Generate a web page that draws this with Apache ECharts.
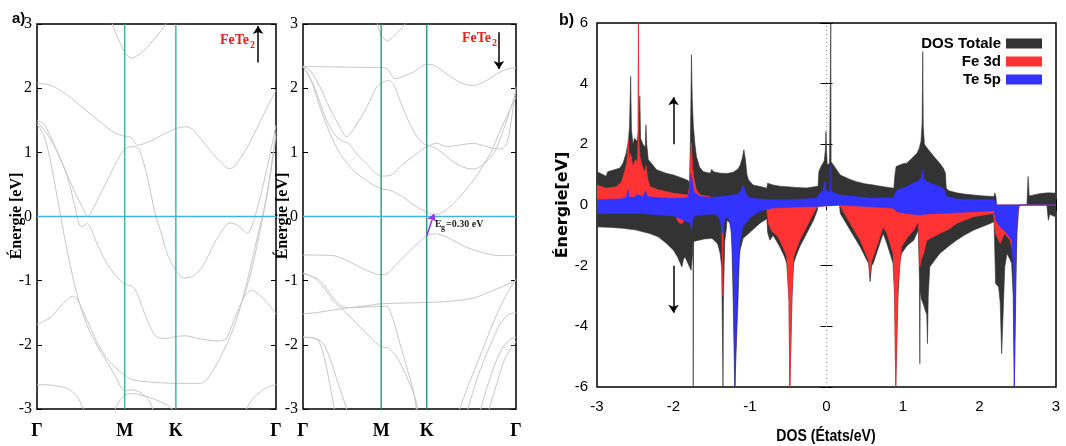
<!DOCTYPE html>
<html><head><meta charset="utf-8">
<script src="https://cdn.jsdelivr.net/npm/echarts@6/dist/echarts.min.js"></script>
<style>html,body{margin:0;padding:0;background:#fff}#c{width:1066px;height:446px}</style>
</head><body><div id="c"></div>
<script>
// ---------- k-path (band panels) ----------
const kTicks = [0, 0.367, 0.581, 1];
const kLabels = ['Γ', 'M', 'K', 'Γ'];

// spin-up bands (panel a, left)
const bandsUp = [
  [[0.30,3.2],[0.315,3.0],[0.34,2.77],[0.367,2.56],[0.396,2.47],[0.448,2.59],[0.503,2.82],[0.538,3.0],[0.555,3.12]],
  [[0,2.07],[0.045,2.06],[0.127,1.89],[0.197,1.68],[0.266,1.47],[0.322,1.31],[0.367,1.25],[0.395,1.23],[0.42,1.11],[0.476,1.18],[0.545,1.31],[0.581,1.37],[0.622,1.40],[0.657,1.34],[0.713,1.08],[0.768,0.85],[0.803,0.75],[0.824,0.77],[0.88,1.08],[0.936,1.50],[0.978,1.81],[1,1.97]],
  [[0,1.50],[0.029,1.44],[0.071,1.13],[0.113,0.77],[0.155,0.41],[0.197,0.09],[0.21,0.0],[0.222,0.03],[0.252,0.25],[0.294,0.56],[0.336,0.87],[0.367,1.05],[0.406,1.09],[0.427,1.05],[0.462,0.61],[0.497,0.0],[0.517,-0.22],[0.545,-0.58],[0.581,-0.84],[0.615,-0.96],[0.657,-0.92],[0.699,-0.74],[0.74,-0.43],[0.79,-0.14],[0.81,-0.10],[0.845,-0.15],[0.88,-0.26],[0.908,-0.05],[0.95,0.55],[1,1.42]],
  [[0,1.47],[0.04,1.30],[0.085,1.0],[0.127,0.62],[0.162,0.1],[0.175,-0.1],[0.186,-0.16],[0.197,-0.14],[0.21,-0.11],[0.252,-0.43],[0.294,-0.74],[0.336,-0.95],[0.367,-1.05],[0.399,-1.09],[0.42,-1.21],[0.462,-1.62],[0.503,-1.88],[0.545,-1.90],[0.581,-1.87],[0.622,-1.86],[0.685,-1.91],[0.754,-1.94],[0.79,-1.91],[0.824,-1.62],[0.866,-1.26],[0.90,-1.15],[0.93,-1.22],[0.96,-1.33],[1,-1.52]],
  [[0,1.44],[0.03,1.25],[0.06,0.8],[0.099,0.0],[0.13,-0.6],[0.17,-1.25],[0.21,-1.7],[0.25,-2.0],[0.29,-2.25],[0.33,-2.5],[0.367,-2.72],[0.40,-2.70],[0.44,-2.76],[0.47,-2.88],[0.49,-3.05]],
  [[0,-1.68],[0.057,-1.57],[0.113,-1.34],[0.152,-1.24],[0.17,-1.3],[0.21,-1.62],[0.25,-1.95],[0.29,-2.2],[0.33,-2.36],[0.367,-2.47],[0.395,-2.54],[0.476,-2.58],[0.581,-2.6],[0.685,-2.6],[0.713,-2.53],[0.768,-2.19],[0.824,-1.72],[0.87,-1.15],[0.92,-0.35],[0.96,0.3],[1,1.25]],
  [[0.866,-1.26],[0.9,-0.8],[0.94,-0.1],[0.97,0.5],[1,1.32]],
  [[0.87,-3.05],[0.9,-2.85],[0.94,-2.72],[0.97,-2.65],[1,-2.62]],
  [[0,-2.62],[0.06,-2.63],[0.127,-2.68],[0.17,-2.82],[0.2,-3.05]],
  [[0.32,-3.05],[0.345,-2.88],[0.367,-2.78],[0.40,-2.76],[0.47,-2.82],[0.54,-2.93],[0.58,-3.05]]
];

// spin-down bands (panel a, right)
const bandsDown = [
  [[0.335,3.12],[0.349,3.0],[0.367,2.82],[0.396,2.74],[0.44,2.86],[0.479,3.0],[0.49,3.1]],
  [[0,2.34],[0.142,2.33],[0.367,2.32],[0.396,2.30],[0.432,2.15],[0.46,2.17],[0.518,2.25],[0.581,2.37],[0.612,2.36],[0.675,2.22],[0.737,2.09],[0.797,2.04],[0.862,2.12],[0.925,2.25],[0.972,2.31],[1,2.32]],
  [[0,2.34],[0.033,2.28],[0.08,2.02],[0.127,1.68],[0.174,1.39],[0.205,1.24],[0.252,1.44],[0.299,1.70],[0.346,2.02],[0.367,2.08],[0.40,2.12],[0.424,2.07],[0.455,1.81],[0.502,1.44],[0.549,1.18],[0.581,1.11],[0.612,1.08],[0.659,0.98],[0.72,0.82],[0.79,0.74],[0.83,0.77],[0.894,0.98],[0.94,1.34],[1,1.95]],
  [[0,2.34],[0.049,2.05],[0.111,1.50],[0.158,1.24],[0.189,1.17],[0.213,1.14],[0.252,0.98],[0.299,0.82],[0.367,0.63],[0.408,0.64],[0.471,0.82],[0.534,0.98],[0.581,1.09],[0.628,1.14],[0.675,1.09],[0.729,1.11],[0.80,1.14],[0.862,1.09],[0.925,1.05],[0.956,1.13],[0.987,1.70],[1,2.02]],
  [[0,2.34],[0.033,2.17],[0.08,1.70],[0.127,1.29],[0.174,0.98],[0.236,0.72],[0.299,0.56],[0.367,0.43],[0.408,0.41],[0.471,0.30],[0.534,0.15],[0.581,0.07],[0.612,0.03],[0.659,0.07],[0.72,0.25],[0.80,0.56],[0.878,0.98],[0.94,1.44],[1,1.86]],
  [[0,-0.60],[0.142,-0.61],[0.22,-0.71],[0.299,-0.84],[0.367,-0.91],[0.396,-0.89],[0.44,-0.74],[0.502,-0.53],[0.581,-0.30],[0.62,-0.27],[0.675,-0.32],[0.768,-0.48],[0.862,-0.58],[0.925,-0.61],[1,-0.60]],
  [[0,-0.89],[0.049,-0.95],[0.095,-1.10],[0.142,-1.31],[0.189,-1.46],[0.252,-1.67],[0.315,-1.88],[0.367,-2.03],[0.40,-2.05],[0.44,-2.19],[0.487,-2.5],[0.526,-2.82],[0.54,-3.05]],
  [[0,-0.88],[0.04,-0.93],[0.08,-1.0],[0.142,-1.26],[0.189,-1.41],[0.236,-1.42],[0.299,-1.41],[0.367,-1.40],[0.396,-1.41],[0.424,-1.62],[0.455,-1.98],[0.487,-2.35],[0.518,-2.71],[0.534,-3.05]],
  [[0,-1.52],[0.08,-1.49],[0.174,-1.44],[0.299,-1.39],[0.367,-1.36],[0.581,-1.34],[0.69,-1.32],[0.80,-1.27],[0.894,-1.15],[1,-1.0]],
  [[0,-1.88],[0.05,-1.89],[0.075,-1.95],[0.1,-2.2],[0.125,-2.6],[0.15,-3.05]],
  [[0,-1.88],[0.05,-1.9],[0.09,-1.96],[0.12,-2.15],[0.15,-2.45],[0.18,-2.75],[0.21,-3.05]],
  [[0.73,-3.05],[0.78,-2.6],[0.84,-2.1],[0.9,-1.6],[0.95,-1.25],[1,-0.98]],
  [[0.77,-3.05],[0.82,-2.5],[0.88,-2.0],[0.93,-1.65],[0.97,-1.52],[1,-1.5]],
  [[0.83,-3.05],[0.87,-2.6],[0.92,-2.15],[0.96,-1.95],[1,-1.88]],
  [[0.87,-3.05],[0.91,-2.6],[0.95,-2.2],[1,-1.95]]
];

// ---------- DOS (panel b) ----------
const dosTotalUp = [[-3,1.10],[-2.88,0.95],[-2.86,1.10],[-2.75,1.18],[-2.7,1.22],[-2.66,1.38],[-2.62,1.7],[-2.59,2.1],[-2.575,2.6],[-2.56,4.24],[-2.55,2.5],[-2.53,2.0],[-2.51,2.2],[-2.475,2.1],[-2.462,2.4],[-2.458,6.0],[-2.454,2.8],[-2.44,3.6],[-2.43,2.2],[-2.40,2.0],[-2.37,1.9],[-2.36,2.64],[-2.35,2.0],[-2.33,1.5],[-2.22,1.16],[-2.1,1.05],[-2.0,0.99],[-1.9,0.9],[-1.83,0.83],[-1.79,0.77],[-1.78,2.0],[-1.765,4.95],[-1.755,3.5],[-1.74,2.6],[-1.72,2.0],[-1.70,1.6],[-1.66,1.25],[-1.61,1.10],[-1.52,1.05],[-1.50,1.18],[-1.48,1.1],[-1.39,1.05],[-1.3,1.04],[-1.22,1.08],[-1.16,1.18],[-1.13,1.3],[-1.10,1.55],[-1.08,1.82],[-1.06,1.5],[-1.04,1.0],[-1.02,0.83],[-0.96,0.66],[-0.85,0.6],[-0.78,0.55],[-0.77,0.72],[-0.7,0.66],[-0.61,0.62],[-0.4,0.58],[-0.26,0.56],[-0.11,0.62],[-0.1,1.1],[-0.07,1.28],[-0.03,1.45],[-0.015,1.8],[-0.007,2.42],[0.0,1.8],[0.01,1.32],[0.04,1.38],[0.052,1.4],[0.056,6.0],[0.06,1.42],[0.09,1.32],[0.18,0.99],[0.3,0.85],[0.39,0.77],[0.5,0.7],[0.61,0.66],[0.75,0.6],[0.88,0.55],[0.895,1.0],[0.91,1.27],[0.96,1.32],[1.0,1.36],[1.05,1.38],[1.1,1.5],[1.14,1.6],[1.18,1.7],[1.21,1.85],[1.235,2.1],[1.25,2.7],[1.258,5.06],[1.265,2.6],[1.28,2.0],[1.3,1.93],[1.34,1.8],[1.37,1.71],[1.42,1.55],[1.48,1.38],[1.53,1.2],[1.555,1.05],[1.565,0.55],[1.6,0.47],[1.7,0.4],[1.8,0.36],[1.92,0.33],[2.05,0.3],[2.19,0.28],[2.2,0.4],[2.215,0.28],[2.225,0],[2.62,0],[2.635,0.94],[2.65,0.3],[2.66,0.33],[2.8,0.38],[2.9,0.4],[3.0,0.39]];
const dosFeUp = [[-3,0.66],[-2.88,0.55],[-2.75,0.6],[-2.68,0.75],[-2.64,1.1],[-2.61,1.4],[-2.59,2.15],[-2.58,1.5],[-2.56,1.7],[-2.53,1.25],[-2.50,1.5],[-2.47,1.4],[-2.462,2.48],[-2.458,6.0],[-2.454,2.2],[-2.44,1.6],[-2.40,1.2],[-2.37,1.1],[-2.36,1.3],[-2.34,0.9],[-2.31,0.61],[-2.2,0.5],[-2.0,0.39],[-1.81,0.33],[-1.79,0.6],[-1.78,1.49],[-1.765,2.04],[-1.75,1.2],[-1.73,0.83],[-1.7,0.5],[-1.65,0.33],[-1.52,0.28],[-1.5,0.12],[-1.0,0.1],[0,0.12],[1,0.12],[2.2,0.1],[2.22,0],[3,0]];
const dosTeUp = [[-3,0.17],[-2.7,0.2],[-2.62,0.24],[-2.595,0.5],[-2.58,0.25],[-2.5,0.26],[-2.48,0.35],[-2.46,0.3],[-2.4,0.28],[-2.365,0.45],[-2.34,0.28],[-2.2,0.24],[-2.0,0.22],[-1.81,0.24],[-1.79,0.5],[-1.77,1.05],[-1.75,0.7],[-1.73,0.42],[-1.65,0.28],[-1.5,0.25],[-1.3,0.3],[-1.16,0.36],[-1.13,0.42],[-1.09,0.66],[-1.06,0.42],[-1.02,0.25],[-0.9,0.2],[-0.7,0.17],[-0.4,0.18],[-0.13,0.22],[-0.09,0.39],[-0.05,0.45],[-0.02,0.77],[-0.01,0.5],[0.02,0.44],[0.05,0.44],[0.056,1.3],[0.06,0.44],[0.1,0.4],[0.18,0.33],[0.4,0.27],[0.61,0.22],[0.88,0.24],[0.9,0.4],[0.93,0.5],[1.0,0.55],[1.05,0.61],[1.12,0.7],[1.2,0.8],[1.24,0.9],[1.258,1.16],[1.27,0.85],[1.31,0.77],[1.4,0.68],[1.48,0.61],[1.54,0.5],[1.57,0.28],[1.7,0.2],[1.92,0.17],[2.2,0.17],[2.22,0],[3,0]];
const dosTotalDown = [[-3,-0.72],[-2.8,-0.74],[-2.66,-0.77],[-2.5,-0.82],[-2.31,-0.94],[-2.2,-1.05],[-2.09,-1.27],[-2.0,-1.49],[-1.95,-1.7],[-1.91,-1.93],[-1.89,-2.04],[-1.87,-1.8],[-1.85,-1.71],[-1.81,-1.93],[-1.77,-2.15],[-1.75,-1.6],[-1.745,-1.2],[-1.742,-6],[-1.738,-1.2],[-1.70,-1.18],[-1.6,-1.12],[-1.5,-1.1],[-1.45,-1.2],[-1.42,-1.3],[-1.39,-1.6],[-1.37,-2.04],[-1.353,-6],[-1.347,-3],[-1.33,-1.2],[-1.31,-0.8],[-1.30,-0.5],[-1.28,-0.44],[-1.26,-0.6],[-1.24,-0.94],[-1.22,-3.14],[-1.2,-6],[-1.18,-6],[-1.16,-3.4],[-1.14,-1.8],[-1.13,-1.49],[-1.09,-1.1],[-1.0,-0.9],[-0.87,-0.6],[-0.78,-0.45],[-0.77,-0.9],[-0.74,-1.16],[-0.70,-1.0],[-0.65,-1.2],[-0.61,-1.38],[-0.55,-1.7],[-0.52,-1.93],[-0.49,-3.14],[-0.48,-6],[-0.46,-6],[-0.45,-3.0],[-0.43,-1.93],[-0.40,-1.7],[-0.35,-1.38],[-0.26,-0.94],[-0.17,-0.5],[-0.12,-0.17],[-0.11,0],[0.17,0],[0.18,-0.28],[0.31,-0.83],[0.44,-1.38],[0.55,-1.93],[0.57,-2.53],[0.59,-2.0],[0.61,-1.93],[0.68,-1.4],[0.74,-0.94],[0.79,-1.27],[0.87,-1.93],[0.89,-3.0],[0.905,-6],[0.92,-6],[0.935,-3.0],[0.96,-1.9],[0.98,-1.6],[1.05,-1.35],[1.14,-1.16],[1.20,-0.83],[1.215,-2.5],[1.22,-5.23],[1.225,-2.8],[1.24,-3.1],[1.27,-3.3],[1.29,-3.47],[1.31,-3.6],[1.32,-4.57],[1.33,-3.0],[1.35,-2.04],[1.42,-1.8],[1.48,-1.6],[1.6,-1.35],[1.70,-1.16],[1.8,-1.0],[1.92,-0.83],[2.05,-0.7],[2.14,-0.61],[2.19,-0.55],[2.205,-2.0],[2.21,-2.59],[2.25,-2.7],[2.27,-3.2],[2.29,-4.9],[2.31,-3.5],[2.33,-2.04],[2.36,-1.6],[2.38,-1.6],[2.40,-1.8],[2.42,-1.93],[2.44,-3.0],[2.455,-6],[2.465,-6],[2.48,-2.0],[2.49,-0.94],[2.51,-0.2],[2.52,0],[2.88,0],[2.9,-0.5],[2.92,-0.3],[2.95,-0.35],[3.0,-0.39]];
const dosFeDown = [[-3,-0.04],[-2.0,-0.05],[-1.95,-0.5],[-1.92,-0.6],[-1.9,-0.55],[-1.88,-0.6],[-1.86,-0.5],[-1.84,-0.05],[-1.4,-0.05],[-1.37,-0.6],[-1.355,-3],[-1.35,-0.3],[-1.34,-0.05],[-1.0,-0.06],[-0.96,-0.1],[-0.9,-0.12],[-0.78,-0.15],[-0.76,-0.6],[-0.72,-0.85],[-0.65,-1.0],[-0.61,-1.16],[-0.55,-1.5],[-0.52,-1.71],[-0.49,-3.14],[-0.478,-6],[-0.462,-6],[-0.45,-2.8],[-0.43,-1.71],[-0.35,-1.16],[-0.26,-0.72],[-0.17,-0.28],[-0.12,-0.05],[-0.11,0],[0.17,0],[0.18,-0.05],[0.31,-0.61],[0.44,-1.16],[0.55,-1.82],[0.57,-2.26],[0.59,-1.85],[0.61,-1.71],[0.68,-1.2],[0.74,-0.72],[0.79,-0.94],[0.87,-1.6],[0.89,-2.8],[0.905,-6],[0.92,-6],[0.935,-2.59],[0.98,-1.38],[1.05,-1.1],[1.14,-0.83],[1.20,-0.55],[1.215,-1.5],[1.22,-2.04],[1.24,-1.8],[1.27,-1.6],[1.31,-1.16],[1.4,-1.05],[1.48,-0.94],[1.6,-0.8],[1.70,-0.61],[1.8,-0.5],[1.92,-0.39],[2.05,-0.33],[2.18,-0.28],[2.205,-0.8],[2.21,-0.94],[2.27,-1.27],[2.3,-1.1],[2.33,-0.94],[2.40,-1.16],[2.44,-1.6],[2.47,-1.0],[2.49,-0.39],[2.52,0],[3,0]];
const dosTeDown = [[-3,-0.28],[-2.44,-0.28],[-2.0,-0.36],[-1.91,-0.45],[-1.83,-0.55],[-1.78,-0.6],[-1.765,-0.83],[-1.75,-0.5],[-1.72,-0.35],[-1.48,-0.3],[-1.42,-0.35],[-1.39,-0.5],[-1.36,-0.94],[-1.34,-0.6],[-1.32,-0.4],[-1.28,-0.42],[-1.25,-0.8],[-1.23,-1.5],[-1.21,-3.0],[-1.195,-6],[-1.185,-6],[-1.17,-3.0],[-1.15,-1.8],[-1.13,-1.16],[-1.09,-0.72],[-1.0,-0.42],[-0.87,-0.2],[-0.7,-0.1],[-0.3,-0.06],[-0.13,-0.05],[-0.11,0],[0.17,0],[0.18,-0.05],[0.87,-0.1],[0.92,-0.22],[1.05,-0.28],[1.22,-0.33],[1.3,-0.3],[1.48,-0.28],[1.92,-0.22],[2.19,-0.19],[2.21,-0.5],[2.27,-0.72],[2.36,-0.94],[2.42,-1.16],[2.44,-2.0],[2.455,-6],[2.465,-6],[2.48,-1.0],[2.49,-0.28],[2.52,0],[3,0]];
const dosNames = ['DOS Totale', 'Fe 3d', 'Te 5p'];
const dosColors = ['#333333', '#ff3333', '#3333ff'];

// ---------- build ----------
const SERIF = "'Liberation Serif','DejaVu Serif',serif";
const SANS = "'Liberation Sans','DejaVu Sans',sans-serif";
const series = [];

function bandSeries(bands, gi, vColor) {
  bands.forEach(b => series.push({
    type: 'line', xAxisIndex: gi, yAxisIndex: gi * 2, data: b, smooth: 0.3,
    showSymbol: false, silent: true, z: 2,
    lineStyle: { color: '#c6c6c6', width: 1 }
  }));
  kTicks.slice(1, 3).forEach(k => series.push({
    type: 'line', xAxisIndex: gi, yAxisIndex: gi * 2, data: [[k, -3], [k, 3]],
    showSymbol: false, silent: true, z: 3, lineStyle: { color: vColor, width: 1.3 }
  }));
  series.push({
    type: 'line', xAxisIndex: gi, yAxisIndex: gi * 2, data: [[0, 0], [1, 0]],
    showSymbol: false, silent: true, z: 3, lineStyle: { color: '#45b0e6', width: 1.3 }
  });
}
bandSeries(bandsUp, 0, '#3aa892');
bandSeries(bandsDown, 1, '#1b9070');

function arrow(xi, yi, from, to, color, size) {
  return {
    type: 'line', xAxisIndex: xi, yAxisIndex: yi, data: [], silent: true, z: 5,
    markLine: {
      silent: true, animation: false, symbol: ['none', 'arrow'], symbolSize: size,
      label: { show: false }, lineStyle: { color: color, width: 1.5, type: 'solid' },
      emphasis: { disabled: true },
      data: [[{ coord: from }, { coord: to }]]
    }
  };
}
series.push(arrow(0, 0, [0.925, 2.4], [0.925, 2.97], '#000', 8));
series.push(arrow(1, 2, [0.92, 2.87], [0.92, 2.3], '#000', 8));
series.push(arrow(1, 2, [0.581, -0.30], [0.615, 0.04], '#9933ee', 7));

// DOS
series.push({
  type: 'line', xAxisIndex: 2, yAxisIndex: 4, data: [[0, -6], [0, 6]], showSymbol: false, silent: true, z: 1,
  lineStyle: { color: '#999', width: 1, type: [1, 3] }
});
const dosUp = [dosTotalUp, dosFeUp, dosTeUp];
const dosDown = [dosTotalDown, dosFeDown, dosTeDown];
[0, 1, 2].forEach(i => {
  [dosUp[i], dosDown[i]].forEach(d => series.push({
    name: dosNames[i], type: 'line', xAxisIndex: 2, yAxisIndex: 4, data: d,
    showSymbol: false, silent: true, z: 2 + i,
    itemStyle: { color: dosColors[i] },
    lineStyle: { color: dosColors[i], width: 0.6 },
    areaStyle: { color: dosColors[i], opacity: 1 }
  }));
});
series.push(arrow(2, 4, [-2, 2], [-2, 3.55], '#000', 8));
series.push(arrow(2, 4, [-2, -2], [-2, -3.55], '#000', 8));

const tickIn = { show: true, inside: true, length: 5, lineStyle: { color: '#000', width: 1 } };
function kAxis(gi) {
  return {
    gridIndex: gi, type: 'value', min: 0, max: 1,
    axisLine: { show: false }, axisTick: { show: false }, splitLine: { show: false },
    axisLabel: {
      customValues: kTicks, margin: 13, color: '#000', fontFamily: SERIF, fontWeight: 'bold', fontSize: 18,
      formatter: v => { const i = kTicks.findIndex(t => Math.abs(t - v) < 1e-6); return i >= 0 ? kLabels[i] : ''; }
    }
  };
}
function eAxis(gi, pos, labels) {
  return {
    gridIndex: gi, type: 'value', min: -3, max: 3, interval: 1, position: pos,
    axisLine: { show: false }, axisTick: tickIn, splitLine: { show: false },
    axisLabel: { show: labels, margin: 5, color: '#000', fontFamily: SERIF, fontSize: 16 }
  };
}

const option = {
  animation: false,
  grid: [
    { left: 37, top: 24, width: 239, height: 385, show: true, borderColor: '#000', borderWidth: 1.5 },
    { left: 303, top: 24, width: 213, height: 385, show: true, borderColor: '#000', borderWidth: 1.5 },
    { left: 597, top: 23, width: 459, height: 364, show: true, borderColor: '#000', borderWidth: 1.5 }
  ],
  xAxis: [
    kAxis(0), kAxis(1),
    { gridIndex: 2, type: 'value', min: -3, max: 3, interval: 1, axisLine: { show: false },
      axisTick: Object.assign({}, tickIn, { length: 6 }), splitLine: { show: false },
      axisLabel: { margin: 12, color: '#000', fontFamily: SANS, fontSize: 15 } },
    { gridIndex: 2, type: 'value', min: -3, max: 3, interval: 1, position: 'top', axisLine: { show: false },
      axisTick: Object.assign({}, tickIn, { length: 6 }), splitLine: { show: false }, axisLabel: { show: false } }
  ],
  yAxis: [
    eAxis(0, 'left', true), eAxis(0, 'right', false),
    eAxis(1, 'left', true), eAxis(1, 'right', false),
    { gridIndex: 2, type: 'value', min: -6, max: 6, interval: 2, axisLine: { show: false },
      axisTick: Object.assign({}, tickIn, { length: 6 }), splitLine: { show: false },
      axisLabel: { margin: 9, color: '#000', fontFamily: SANS, fontSize: 15 } },
    { gridIndex: 2, type: 'value', min: -6, max: 6, interval: 2, position: 'right', axisLine: { show: false },
      axisTick: Object.assign({}, tickIn, { length: 6 }), splitLine: { show: false }, axisLabel: { show: false } }
  ],
  legend: {
    data: dosNames, orient: 'vertical', right: 19, top: 31, align: 'right', icon: 'rect',
    itemWidth: 36, itemHeight: 10, itemGap: 3, selectedMode: false,
    textStyle: { color: '#000', fontFamily: SANS, fontWeight: 'bold', fontSize: 15 }
  },
  graphic: [
    { type: 'text', x: 12, y: 11, style: { text: 'a)', fill: '#000', font: "bold 15px " + SANS } },
    { type: 'text', x: 17, y: 216, rotation: Math.PI / 2, style: { text: 'Énergie [eV]', fill: '#000', font: "bold 16px " + SERIF, textAlign: 'center', textVerticalAlign: 'middle', align: 'center', verticalAlign: 'middle' } },
    { type: 'text', x: 283, y: 216, rotation: Math.PI / 2, style: { text: 'Énergie [eV]', fill: '#000', font: "bold 16px " + SERIF, textAlign: 'center', textVerticalAlign: 'middle', align: 'center', verticalAlign: 'middle' } },
    { type: 'text', x: 220, y: 33, style: { text: 'FeTe', fill: '#ee2020', font: "bold 14px " + SERIF } },
    { type: 'text', x: 250, y: 40, style: { text: '2', fill: '#ee2020', font: "bold 10px " + SERIF } },
    { type: 'text', x: 462, y: 31, style: { text: 'FeTe', fill: '#ee2020', font: "bold 14px " + SERIF } },
    { type: 'text', x: 492, y: 38, style: { text: '2', fill: '#ee2020', font: "bold 10px " + SERIF } },
    { type: 'text', x: 435, y: 219, style: { text: 'E', fill: '#222', font: "bold 10px " + SERIF } },
    { type: 'text', x: 441, y: 224, style: { text: 'g', fill: '#222', font: "bold 8px " + SERIF } },
    { type: 'text', x: 446, y: 219, style: { text: '=0.30 eV', fill: '#222', font: "bold 10px " + SERIF } },
    { type: 'text', x: 559, y: 13, style: { text: 'b)', fill: '#000', font: "bold 16px " + SANS } },
    { type: 'text', x: 563, y: 205, rotation: Math.PI / 2, style: { text: 'Énergie[eV]', fill: '#000', font: "bold 16px 'DejaVu Sans',sans-serif", textAlign: 'center', textVerticalAlign: 'middle', align: 'center', verticalAlign: 'middle' } },
    { type: 'text', x: 826, y: 437, scaleX: 0.88, style: { text: 'DOS (États/eV)', fill: '#000', font: "bold 16px " + SANS, textAlign: 'center', textVerticalAlign: 'middle', align: 'center', verticalAlign: 'middle' } }
  ],
  series: series
};
const chart = echarts.init(document.getElementById('c'), null, { renderer: 'canvas' });
chart.setOption(option);
</script>
</body></html>
